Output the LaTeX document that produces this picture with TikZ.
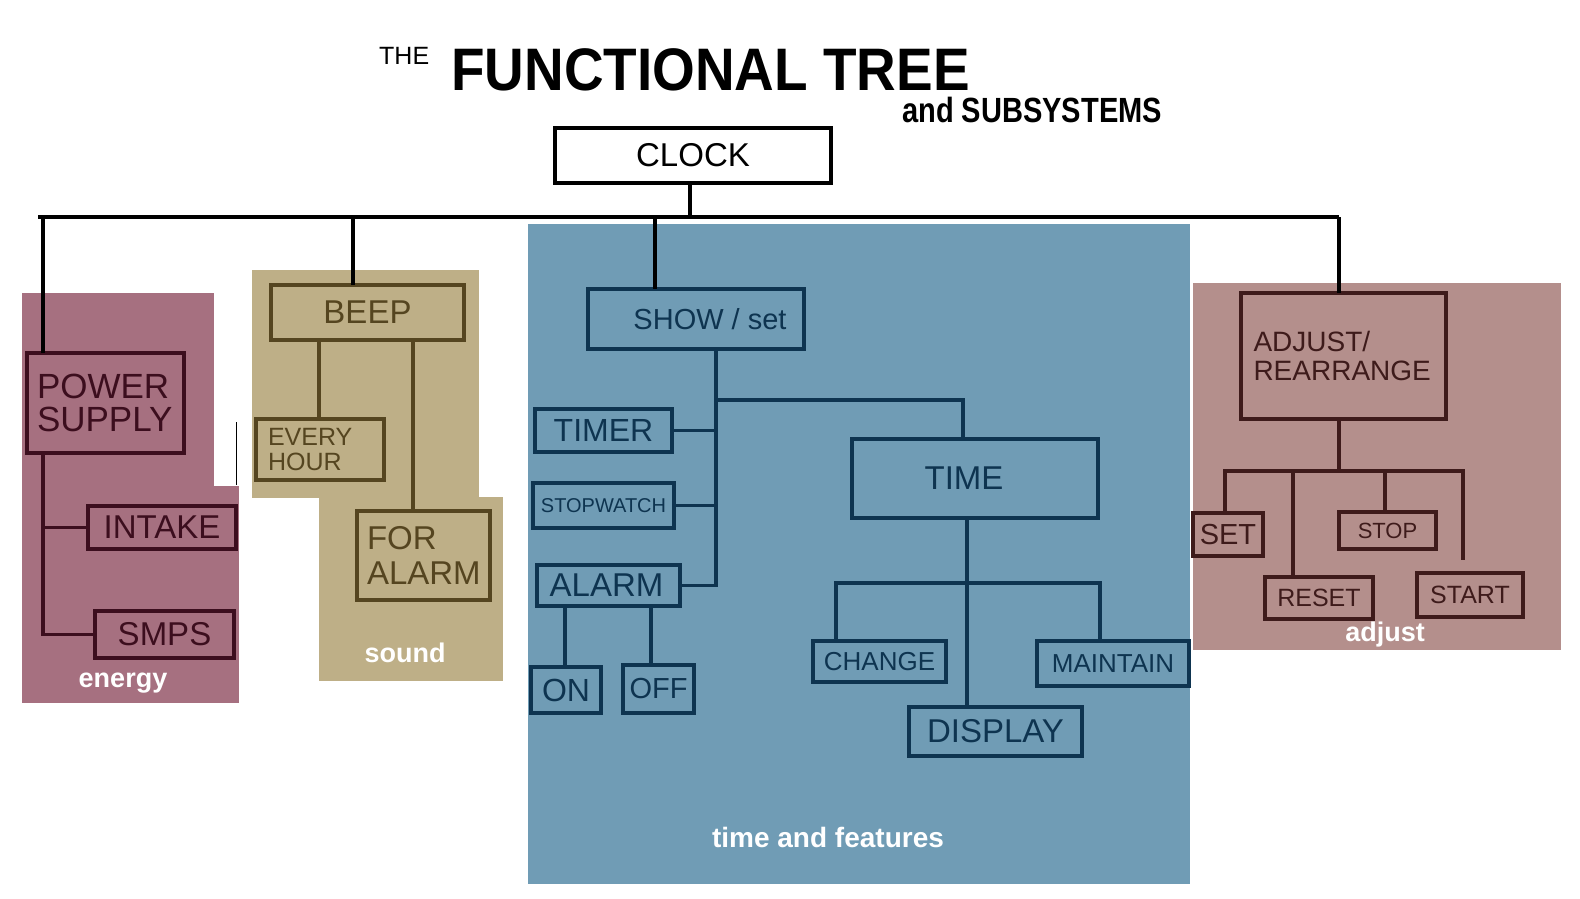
\documentclass[tikz,border=0pt]{standalone}
\usepackage{fontspec}
\usepackage{graphicx}
\setmainfont{Liberation Sans}
\definecolor{EBg}{RGB}{166,112,128}
\definecolor{EDk}{RGB}{60,14,30}
\definecolor{SBg}{RGB}{190,175,135}
\definecolor{SDk}{RGB}{85,69,32}
\definecolor{TBg}{RGB}{112,156,181}
\definecolor{TDk}{RGB}{14,52,80}
\definecolor{ABg}{RGB}{180,143,140}
\definecolor{ADk}{RGB}{62,27,27}
\newcommand{\fsz}[2]{\fontsize{#1}{#2}\selectfont}
\begin{document}
\begin{tikzpicture}[x=1pt,y=-1pt,
  bx/.style={draw, line width=3.2pt, inner sep=0pt, outer sep=0pt, anchor=north west},
  ebx/.style={bx, draw=EDk, text=EDk},
  sbx/.style={bx, draw=SDk, text=SDk},
  tbx/.style={bx, draw=TDk, text=TDk},
  abx/.style={bx, draw=ADk, text=ADk},
  kln/.style={black, line width=3.2pt},
  eln/.style={EDk, line width=3.2pt},
  sln/.style={SDk, line width=3.2pt},
  tln/.style={TDk, line width=3.2pt},
  aln/.style={ADk, line width=3.2pt},
  grp/.style={font=\bfseries\fsz{27}{27}, text=white, inner sep=0pt, anchor=base},
]
\useasboundingbox (0,0) rectangle (1580,898);
\fill[white] (0,0) rectangle (1580,898);
% group backgrounds
\fill[EBg] (22,293) rectangle (214,487);
\fill[EBg] (22,486) rectangle (239,703);
\fill[SBg] (252,270) rectangle (479,498);
\fill[SBg] (319,497) rectangle (503,681);
\fill[TBg] (528,224) rectangle (1190,884);
\fill[ABg] (1193,283) rectangle (1561,650);
\draw[line width=0.8pt] (236,422) -- (236,485);
% title
\node[anchor=base west, inner sep=0pt, font=\fsz{25}{25}] (the) at (379,64) {THE};
\node[anchor=base west, inner sep=0pt, font=\bfseries\fsz{60}{60}] (ttl) at (451,90) {\scalebox{0.915}[1]{FUNCTIONAL TREE}};
\node[anchor=base west, inner sep=0pt, font=\bfseries\fsz{35}{35}] (sub) at (902,122) {\scalebox{0.83}[1]{and SUBSYSTEMS}};
% root
\node[bx, draw=black, minimum width=276pt, minimum height=55pt, font=\fsz{33}{33}] (clock) at (555,128) {CLOCK};
% energy
\node[ebx, minimum width=157pt, minimum height=100pt, text width=137pt, align=left, font=\fsz{35}{33}] (ps) at (27,353) {POWER\\SUPPLY};
\node[ebx, minimum width=148pt, minimum height=43pt, font=\fsz{33}{33}] (intake) at (88,506) {INTAKE};
\node[ebx, minimum width=139pt, minimum height=47pt, font=\fsz{33}{33}] (smps) at (95,611) {SMPS};
% sound
\node[sbx, minimum width=193pt, minimum height=55pt, font=\fsz{33}{33}] (beep) at (271,285) {BEEP};
\node[sbx, minimum width=128pt, minimum height=61pt, text width=104pt, align=left, font=\fsz{25}{25}] (every) at (256,419) {EVERY\\HOUR};
\node[sbx, minimum width=133pt, minimum height=89pt, text width=113pt, align=left, font=\fsz{33}{35}] (foralarm) at (357,511) {FOR\\ALARM};
% time and features
\node[tbx, minimum width=216pt, minimum height=60pt, font=\fsz{29}{29}] (show) at (588,289) {\hspace*{28pt}SHOW / set};
\node[tbx, minimum width=137pt, minimum height=43pt, font=\fsz{32}{32}] (timer) at (535,409) {TIMER};
\node[tbx, minimum width=141pt, minimum height=45pt, font=\fsz{20}{20}] (stopw) at (533,483) {STOPWATCH};
\node[tbx, minimum width=143pt, minimum height=41pt, font=\fsz{33}{33}] (alarm) at (537,565) {ALARM\hspace*{4pt}};
\node[tbx, minimum width=70pt, minimum height=46pt, font=\fsz{32}{32}] (on) at (531,667) {ON};
\node[tbx, minimum width=71pt, minimum height=48pt, font=\fsz{29}{29}] (off) at (623,665) {OFF};
\node[tbx, minimum width=246pt, minimum height=79pt, font=\fsz{33}{33}] (time) at (852,439) {TIME\hspace*{22pt}};
\node[tbx, minimum width=133pt, minimum height=41pt, font=\fsz{26}{26}] (change) at (813,641) {CHANGE};
\node[tbx, minimum width=152pt, minimum height=45pt, font=\fsz{26}{26}] (maint) at (1037,641) {MAINTAIN};
\node[tbx, minimum width=173pt, minimum height=49pt, font=\fsz{33}{33}] (disp) at (909,707) {DISPLAY};
% adjust
\node[abx, minimum width=205pt, minimum height=126pt, text width=180pt, align=left, font=\fsz{28}{29}] (adj) at (1241,293) {ADJUST/\\REARRANGE};
\node[abx, minimum width=70pt, minimum height=43pt, font=\fsz{29}{29}] (set) at (1193,513) {SET};
\node[abx, minimum width=108pt, minimum height=42pt, font=\fsz{25}{25}] (reset) at (1265,577) {RESET};
\node[abx, minimum width=97pt, minimum height=37pt, font=\fsz{22}{22}] (stop) at (1339,512) {STOP};
\node[abx, minimum width=106pt, minimum height=44pt, font=\fsz{25}{25}] (start) at (1417,573) {START};
% group labels
\node[grp] (lenergy) at (123,687) {energy};
\node[grp] (lsound) at (405,662) {sound};
\node[grp, font=\bfseries\fsz{28}{28}] (ltime) at (828,847) {time and features};
\node[grp] (ladjust) at (1385,641) {adjust};
% main bus
\coordinate (bL) at (38,217);
\coordinate (bR) at (1339,217);
\coordinate (cj) at (690,217);
\coordinate (ej) at (43,217);
\coordinate (sj) at (353,217);
\coordinate (tj) at (655,217);
\draw[kln] (bL) -- (bR);
\draw[kln] (cj |- clock.south) -- (cj);
\draw[kln] (ej) -- (ej |- ps.north);
\draw[kln] (sj) -- (sj |- beep.north);
\draw[kln] (tj) -- (tj |- show.north);
\draw[kln] (bR) -- (bR |- adj.north);
% energy connectors
\draw[eln] (ej |- ps.south) |- (smps.west);
\draw[eln] (ej |- intake.west) -- (intake.west);
% sound connectors
\coordinate (s1) at (319,0);
\coordinate (s2) at (413,0);
\draw[sln] (s1 |- beep.south) -- (s1 |- every.north);
\draw[sln] (s2 |- beep.south) -- (s2 |- foralarm.north);
% time connectors
\coordinate (tv) at (716,0);
\coordinate (tk) at (716,400);
\coordinate (tm) at (963,400);
\draw[tln] (tv |- show.south) |- (alarm.east);
\draw[tln] (tv |- timer.east) -- (timer.east);
\draw[tln] (tv |- stopw.east) -- (stopw.east);
\draw[tln] (tk) -- (tm) -- (tm |- time.north);
\coordinate (ao) at (565,0);
\coordinate (af) at (651,0);
\draw[tln] (ao |- alarm.south) -- (ao |- on.north);
\draw[tln] (af |- alarm.south) -- (af |- off.north);
\coordinate (tb) at (967,583);
\coordinate (tbl) at (836,583);
\coordinate (tbr) at (1100,583);
\draw[tln] (tb |- time.south) -- (tb);
\draw[tln] (tbl |- change.north) -- (tbl) -- (tbr) -- (tbr |- maint.north);
\draw[tln] (tb) -- (tb |- disp.north);
% adjust connectors
\coordinate (aj) at (1339,471);
\coordinate (al) at (1223,471);
\coordinate (ar) at (1465,471);
\coordinate (a1) at (1225,471);
\coordinate (a2) at (1293,471);
\coordinate (a3) at (1385,471);
\coordinate (a4) at (1463,471);
\coordinate (a4e) at (1463,560);
\draw[aln] (aj |- adj.south) -- (aj);
\draw[aln] (al) -- (ar);
\draw[aln] (a1) -- (a1 |- set.north);
\draw[aln] (a2) -- (a2 |- reset.north);
\draw[aln] (a3) -- (a3 |- stop.north);
\draw[aln] (a4) -- (a4e);
\end{tikzpicture}
\end{document}
